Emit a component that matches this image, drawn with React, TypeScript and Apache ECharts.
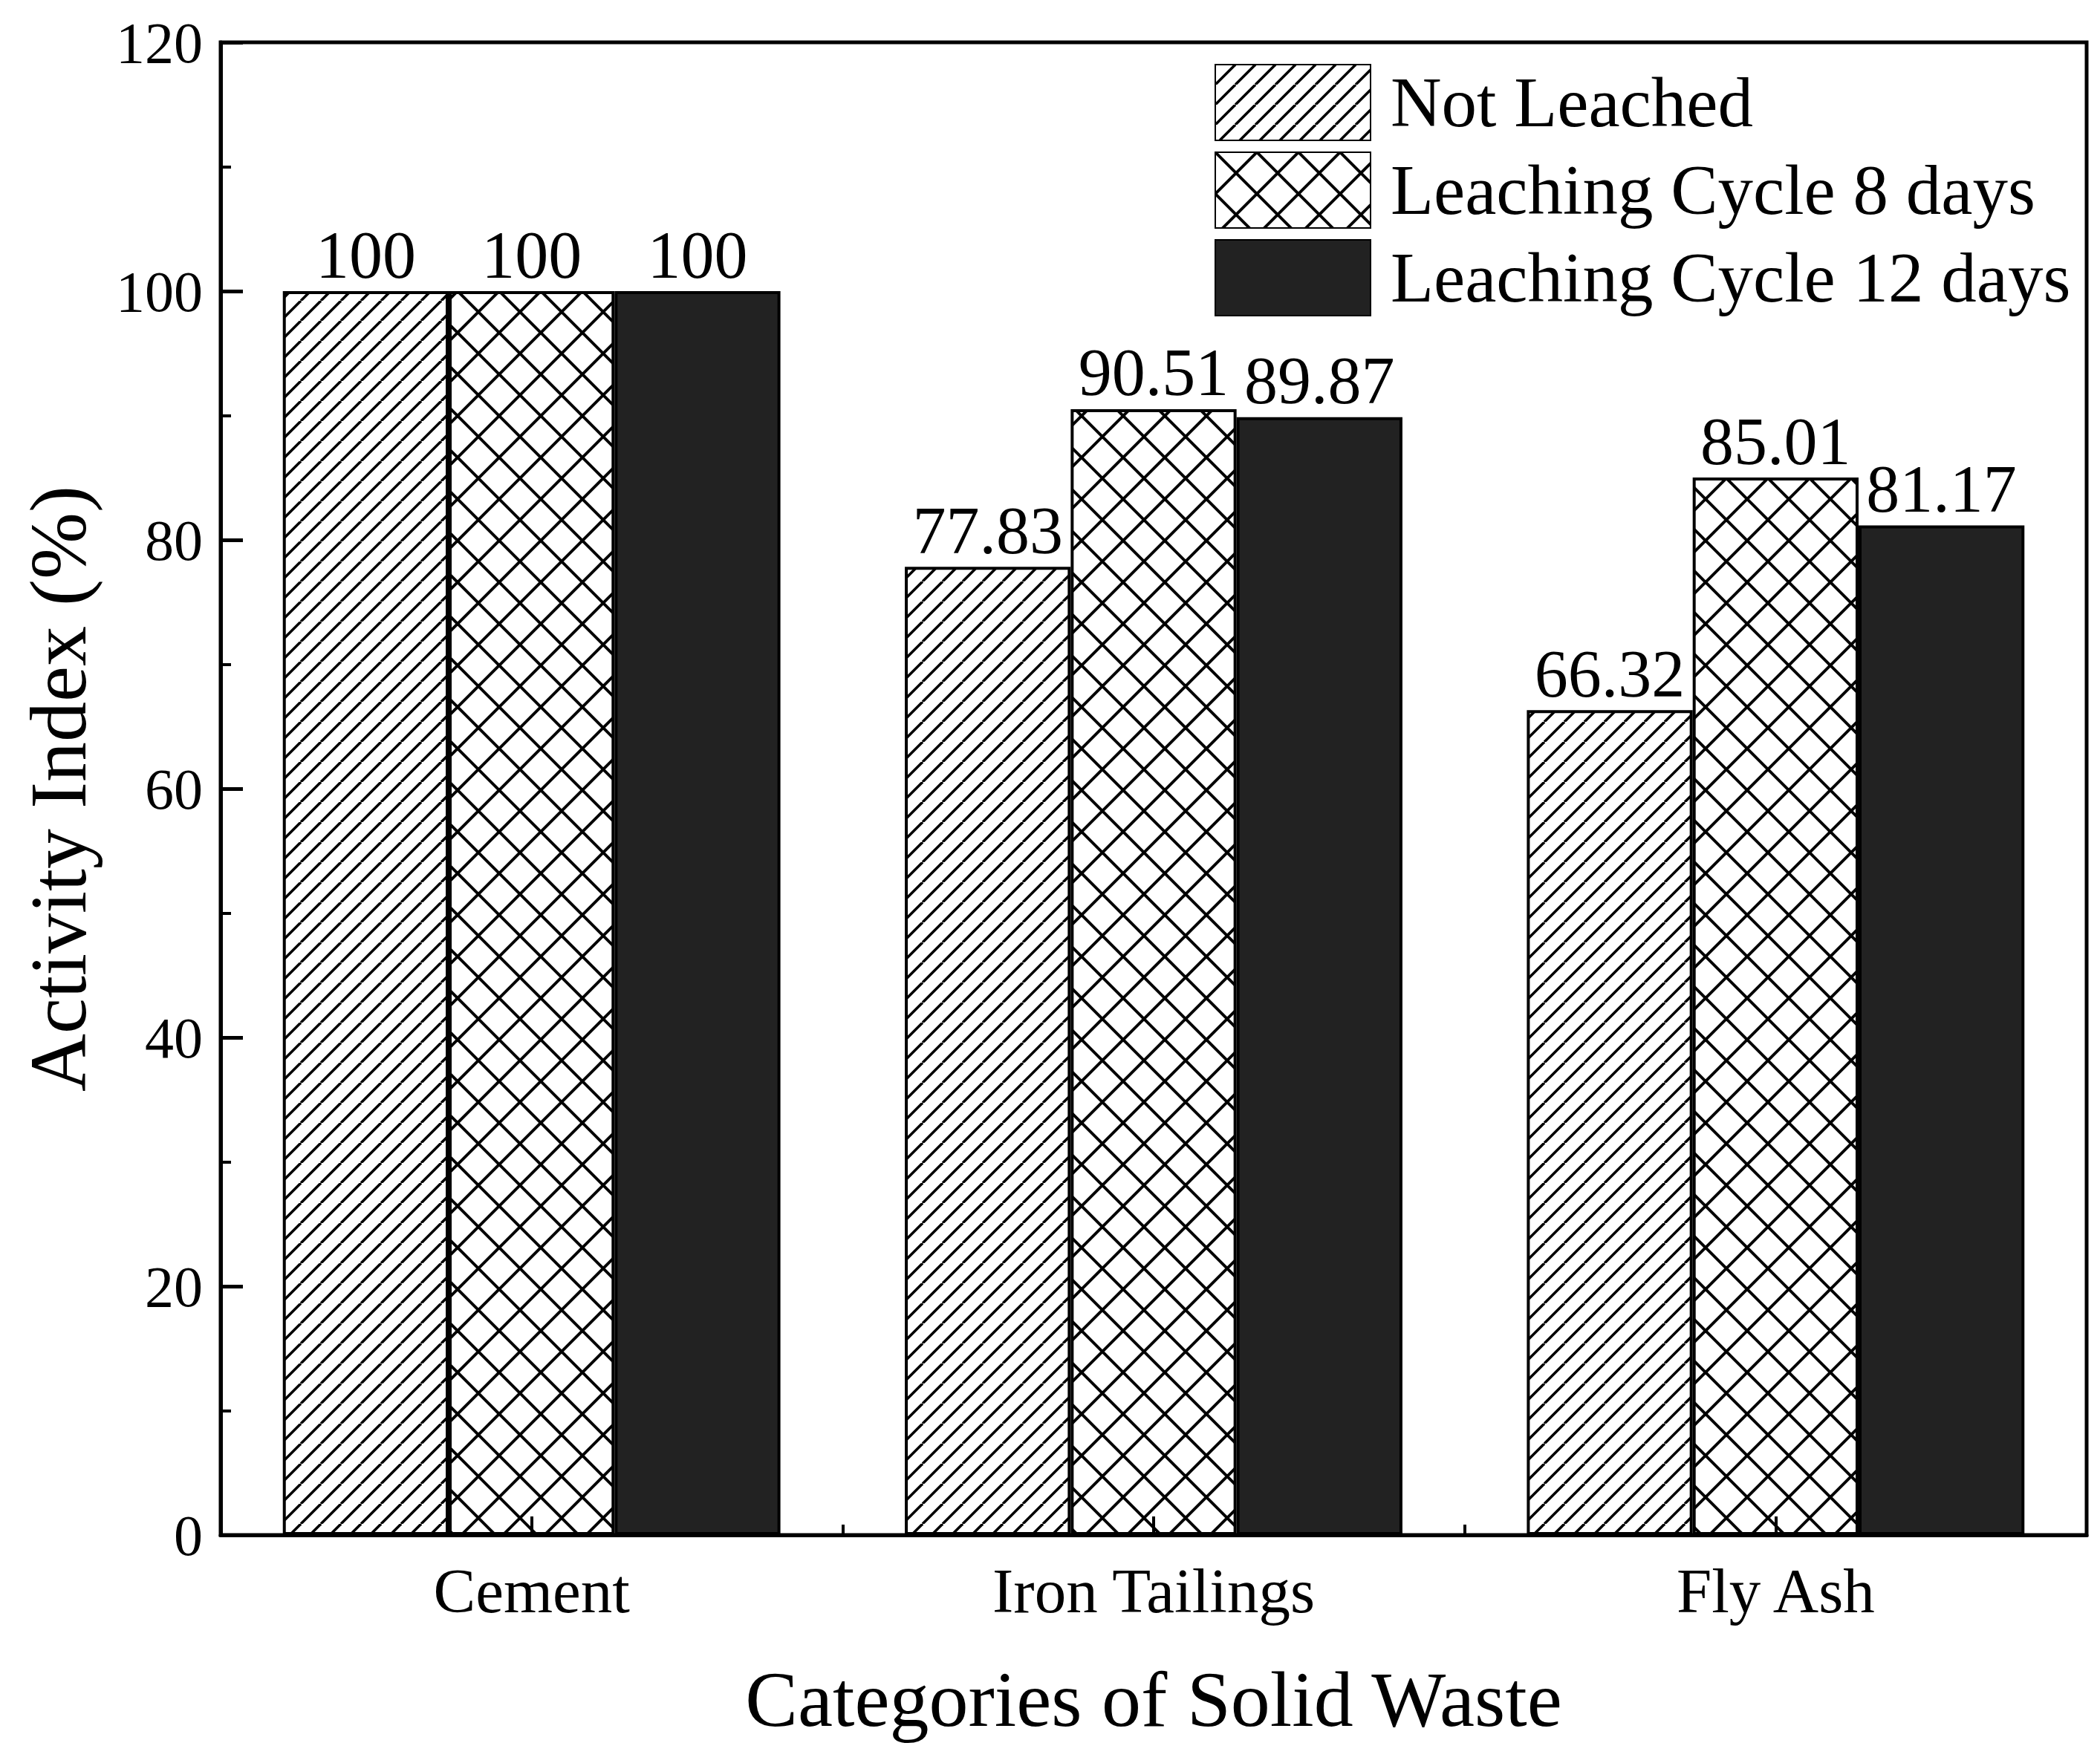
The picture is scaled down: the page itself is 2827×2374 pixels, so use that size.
import { useEffect, useRef } from 'react';
import * as echarts from 'echarts';

const categories = ['Cement', 'Iron Tailings', 'Fly Ash'];
const seriesNames = ['Not Leached', 'Leaching Cycle 8 days', 'Leaching Cycle 12 days'];
const notLeached = [100, 77.83, 66.32];
const cycle8Days = [100, 90.51, 85.01];
const cycle12Days = [100, 89.87, 81.17];
const yMin = 0;
const yMax = 120;
const yStep = 20;

const FONT = 'Liberation Serif';

// Tile with diagonal "/" lines.
function slashTile(size: number, width: number) {
  const c = document.createElement('canvas');
  c.width = size;
  c.height = size;
  const ctx = c.getContext('2d')!;
  ctx.fillStyle = '#fff';
  ctx.fillRect(0, 0, size, size);
  ctx.strokeStyle = '#000';
  ctx.lineWidth = width;
  for (let k = -1; k <= 1; k++) {
    ctx.beginPath();
    ctx.moveTo(k * size, size);
    ctx.lineTo(k * size + size, 0);
    ctx.stroke();
  }
  return c;
}

// Tile with crossing diagonals (diamond grid).
function crossTile(size: number, width: number) {
  const c = document.createElement('canvas');
  c.width = size;
  c.height = size;
  const ctx = c.getContext('2d')!;
  ctx.fillStyle = '#fff';
  ctx.fillRect(0, 0, size, size);
  ctx.strokeStyle = '#000';
  ctx.lineWidth = width;
  for (let dx = -1; dx <= 1; dx++) {
    for (let dy = -1; dy <= 1; dy++) {
      const ox = dx * size;
      const oy = dy * size;
      ctx.beginPath();
      ctx.moveTo(ox, oy);
      ctx.lineTo(ox + size, oy + size);
      ctx.moveTo(ox, oy + size);
      ctx.lineTo(ox + size, oy);
      ctx.stroke();
    }
  }
  return c;
}

export default function App() {
  const ref = useRef<HTMLDivElement | null>(null);

  useEffect(() => {
    document.body.style.margin = '0';
    if (!ref.current) return;
    const chart = echarts.init(ref.current, undefined, { renderer: 'svg' });

    const slash = slashTile(27, 3.5);
    const cross = crossTile(56, 4);
    const fills: any[] = [
      { image: slash, repeat: 'repeat', imageWidth: 27, imageHeight: 27 },
      { image: cross, repeat: 'repeat', imageWidth: 56, imageHeight: 56 },
      '#222222',
    ];
    const values = [notLeached, cycle8Days, cycle12Days];

    chart.setOption({
      animation: false,
      backgroundColor: '#fff',
      textStyle: { fontFamily: FONT, color: '#000' },
      grid: {
        left: 297,
        right: 18,
        top: 57,
        bottom: 307,
        show: true,
        borderColor: '#000',
        borderWidth: 5,
        backgroundColor: 'transparent',
      },
      legend: {
        orient: 'vertical',
        left: 1635,
        top: 86,
        padding: 0,
        align: 'left',
        itemWidth: 209,
        itemHeight: 102,
        itemGap: 14,
        icon: 'rect',
        selectedMode: false,
        textStyle: { fontFamily: FONT, fontSize: 95, color: '#000', padding: [0, 0, 0, 22] },
        data: seriesNames,
      },
      xAxis: [
        {
          type: 'category',
          data: categories,
          position: 'bottom',
          z: 5,
          name: 'Categories of Solid Waste',
          nameLocation: 'middle',
          nameGap: 168,
          nameTextStyle: { fontFamily: FONT, fontSize: 106, color: '#000' },
          axisLine: { show: true, lineStyle: { color: '#000', width: 5 } },
          axisTick: { show: true, inside: true, alignWithLabel: true, length: 25, lineStyle: { color: '#000', width: 4 } },
          axisLabel: { fontFamily: FONT, fontSize: 85, color: '#000', margin: 32 },
          splitLine: { show: false },
        },
        {
          type: 'category',
          data: categories,
          position: 'bottom',
          z: 5,
          axisLine: { show: false },
          axisTick: { show: true, inside: true, alignWithLabel: false, length: 14, lineStyle: { color: '#000', width: 4 } },
          axisLabel: { show: false },
          splitLine: { show: false },
        },
      ],
      yAxis: {
        type: 'value',
        min: yMin,
        max: yMax,
        interval: yStep,
        name: 'Activity Index (%)',
        nameLocation: 'middle',
        nameGap: 165,
        nameTextStyle: { fontFamily: FONT, fontSize: 108, color: '#000' },
        axisLine: { show: true, lineStyle: { color: '#000', width: 5 } },
        axisTick: { show: true, inside: true, length: 30, lineStyle: { color: '#000', width: 5 } },
        minorTick: { show: true, splitNumber: 2, length: 14, lineStyle: { color: '#000', width: 4 } },
        axisLabel: { fontFamily: FONT, fontSize: 78, color: '#000', margin: 24 },
        splitLine: { show: false },
      },
      series: seriesNames.map((name, i) => ({
        name,
        type: 'bar',
        xAxisIndex: 0,
        data: values[i],
        barGap: '0%',
        barCategoryGap: '20%',
        itemStyle: { color: fills[i], borderColor: '#000', borderWidth: 4 },
        label: {
          show: true,
          position: 'top',
          distance: 4,
          fontFamily: FONT,
          fontSize: 90,
          color: '#000',
        },
        emphasis: { disabled: true },
      })),
    });

    return () => {
      chart.dispose();
    };
  }, []);

  return <div ref={ref} style={{ width: 2827, height: 2374 }} />;
}
